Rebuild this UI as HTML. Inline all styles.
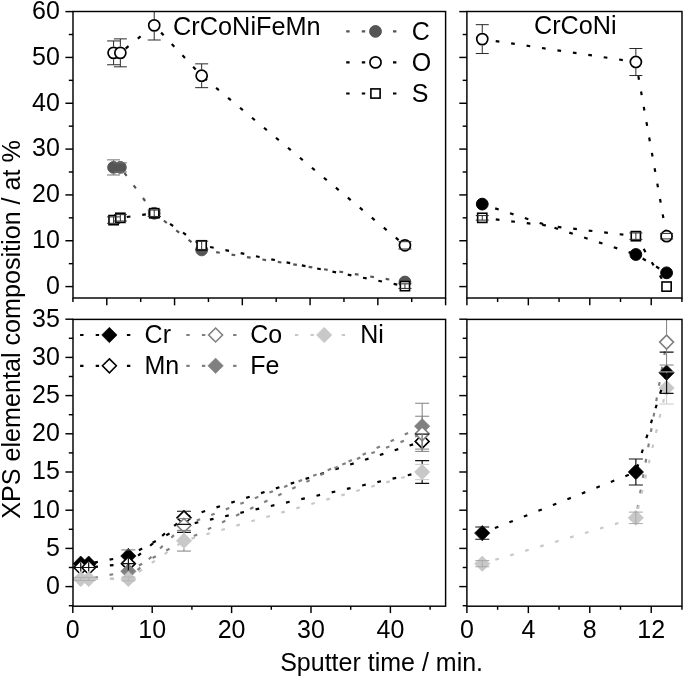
<!DOCTYPE html>
<html><head><meta charset="utf-8"><title>XPS elemental composition</title>
<style>html,body{margin:0;padding:0;background:#fff}svg{display:block;filter:grayscale(1)}</style></head>
<body>
<svg width="685" height="677" viewBox="0 0 685 677" font-family="'Liberation Sans', Arial, sans-serif" font-size="25" fill="#000">
<rect width="685" height="677" fill="#fff"/>
<defs><clipPath id="cTL"><rect x="73" y="11.5" width="373" height="286.5"/></clipPath><clipPath id="cTR"><rect x="466.9" y="11.5" width="215.1" height="286.5"/></clipPath><clipPath id="cBL"><rect x="73" y="319.4" width="373" height="286.8"/></clipPath><clipPath id="cBR"><rect x="466.9" y="319.4" width="215.1" height="286.8"/></clipPath></defs>
<g clip-path="url(#cTL)">
<path d="M113.58 167.42 L120.35 167.42 L154.23 213.25 L201.66 249.92 L404.94 282" fill="none" stroke="#555555" stroke-width="2.2" stroke-dasharray="3.7 11.9" stroke-dashoffset="2.0" stroke-linecap="butt"/>
<circle cx="113.58" cy="167.42" r="5.9" fill="#555555" stroke="#555555" stroke-width="1.0"/>
<circle cx="120.35" cy="167.42" r="5.9" fill="#555555" stroke="#555555" stroke-width="1.0"/>
<circle cx="154.23" cy="213.25" r="5.9" fill="#555555" stroke="#555555" stroke-width="1.0"/>
<circle cx="201.66" cy="249.92" r="5.9" fill="#555555" stroke="#555555" stroke-width="1.0"/>
<circle cx="404.94" cy="282" r="5.9" fill="#555555" stroke="#555555" stroke-width="1.0"/>
<path d="M113.58 52.85 L120.35 52.85 L154.23 25.35 L201.66 75.76 L404.94 245.33" fill="none" stroke="#000" stroke-width="2.2" stroke-dasharray="3.7 11.9" stroke-dashoffset="2.0" stroke-linecap="butt"/>
<circle cx="113.58" cy="52.85" r="5.55" fill="#fff" stroke="#000" stroke-width="1.7"/>
<circle cx="120.35" cy="52.85" r="5.55" fill="#fff" stroke="#000" stroke-width="1.7"/>
<circle cx="154.23" cy="25.35" r="5.55" fill="#fff" stroke="#000" stroke-width="1.7"/>
<circle cx="201.66" cy="75.76" r="5.55" fill="#fff" stroke="#000" stroke-width="1.7"/>
<circle cx="404.94" cy="245.33" r="5.55" fill="#fff" stroke="#000" stroke-width="1.7"/>
<path d="M113.58 220.13 L120.35 217.84 L154.23 213.25 L201.66 245.33 L404.94 286.12" fill="none" stroke="#000" stroke-width="2.2" stroke-dasharray="3.7 11.9" stroke-dashoffset="2.0" stroke-linecap="butt"/>
<rect x="108.98" y="215.53" width="9.2" height="9.2" fill="#fff" stroke="#000" stroke-width="1.6"/>
<rect x="115.75" y="213.24" width="9.2" height="9.2" fill="#fff" stroke="#000" stroke-width="1.6"/>
<rect x="149.63" y="208.65" width="9.2" height="9.2" fill="#fff" stroke="#000" stroke-width="1.6"/>
<rect x="197.06" y="240.73" width="9.2" height="9.2" fill="#fff" stroke="#000" stroke-width="1.6"/>
<rect x="400.34" y="281.52" width="9.2" height="9.2" fill="#fff" stroke="#000" stroke-width="1.6"/>
<path d="M113.58 159.87V161.02M113.58 173.82V174.98M107.08 159.87H120.08M107.08 174.98H120.08" fill="none" stroke="#707070" stroke-width="1.0"/>
<path d="M113.85 162.84H126.85M113.85 172H126.85" fill="none" stroke="#707070" stroke-width="1.0"/>
<path d="M113.58 40.94V46.45M113.58 59.25V64.75M107.08 40.94H120.08M107.08 64.75H120.08" fill="none" stroke="#2a2a2a" stroke-width="1.0"/>
<path d="M120.35 38.88V46.45M120.35 59.25V66.82M113.85 38.88H126.85M113.85 66.82H126.85" fill="none" stroke="#2a2a2a" stroke-width="1.0"/>
<path d="M154.23 11.5V18.95M154.23 31.75V40.01M147.73 40.01H160.73" fill="none" stroke="#2a2a2a" stroke-width="1.0"/>
<path d="M201.66 63.85V69.36M201.66 82.16V87.67M195.16 63.85H208.16M195.16 87.67H208.16" fill="none" stroke="#2a2a2a" stroke-width="1.0"/>
<path d="M398.44 241.67H411.44M398.44 249H411.44" fill="none" stroke="#2a2a2a" stroke-width="1.0"/>
<path d="M113.58 216.92V220.13M113.58 220.13V223.33M107.08 216.92H120.08M107.08 223.33H120.08" fill="none" stroke="#2a2a2a" stroke-width="1.0"/>
<path d="M120.35 214.63V217.84M120.35 217.84V221.04M113.85 214.63H126.85M113.85 221.04H126.85" fill="none" stroke="#2a2a2a" stroke-width="1.0"/>
<path d="M154.23 210.05V213.25M154.23 213.25V216.46M147.73 210.05H160.73M147.73 216.46H160.73" fill="none" stroke="#2a2a2a" stroke-width="1.0"/>
<path d="M201.66 241.21V245.33M201.66 245.33V249.45M195.16 241.21H208.16M195.16 249.45H208.16" fill="none" stroke="#2a2a2a" stroke-width="1.0"/>
<path d="M404.94 283.83V286.12M404.94 286.12V288.41M398.44 283.83H411.44M398.44 288.41H411.44" fill="none" stroke="#2a2a2a" stroke-width="1.0"/>
</g>
<g clip-path="url(#cTR)">
<path d="M482.26 204.09 L635.86 254.5 L666.58 272.83" fill="none" stroke="#000" stroke-width="2.2" stroke-dasharray="3.7 11.9" stroke-dashoffset="2.0" stroke-linecap="butt"/>
<circle cx="482.26" cy="204.09" r="5.9" fill="#000" stroke="#000" stroke-width="1.0"/>
<circle cx="635.86" cy="254.5" r="5.9" fill="#000" stroke="#000" stroke-width="1.0"/>
<circle cx="666.58" cy="272.83" r="5.9" fill="#000" stroke="#000" stroke-width="1.0"/>
<path d="M482.26 39.1 L635.86 62.01 L666.58 236.17" fill="none" stroke="#000" stroke-width="2.2" stroke-dasharray="3.7 11.9" stroke-dashoffset="2.0" stroke-linecap="butt"/>
<circle cx="482.26" cy="39.1" r="5.55" fill="#fff" stroke="#000" stroke-width="1.7"/>
<circle cx="635.86" cy="62.01" r="5.55" fill="#fff" stroke="#000" stroke-width="1.7"/>
<circle cx="666.58" cy="236.17" r="5.55" fill="#fff" stroke="#000" stroke-width="1.7"/>
<path d="M482.26 217.84 L635.86 236.17 L666.58 286.58" fill="none" stroke="#000" stroke-width="2.2" stroke-dasharray="3.7 11.9" stroke-dashoffset="2.0" stroke-linecap="butt"/>
<rect x="477.66" y="213.24" width="9.2" height="9.2" fill="#fff" stroke="#000" stroke-width="1.6"/>
<rect x="631.26" y="231.57" width="9.2" height="9.2" fill="#fff" stroke="#000" stroke-width="1.6"/>
<rect x="661.98" y="281.98" width="9.2" height="9.2" fill="#fff" stroke="#000" stroke-width="1.6"/>
<path d="M482.26 24.67V32.7M482.26 45.5V53.52M475.76 24.67H488.76M475.76 53.52H488.76" fill="none" stroke="#2a2a2a" stroke-width="1.0"/>
<path d="M635.86 48.5V55.61M635.86 68.41V75.52M629.36 48.5H642.36M629.36 75.52H642.36" fill="none" stroke="#2a2a2a" stroke-width="1.0"/>
<path d="M660.08 233.42H673.08M660.08 238.91H673.08" fill="none" stroke="#2a2a2a" stroke-width="1.0"/>
<path d="M482.26 215.55V217.84M482.26 217.84V220.12M475.76 215.55H488.76M475.76 220.12H488.76" fill="none" stroke="#2a2a2a" stroke-width="1.0"/>
<path d="M635.86 232.96V236.17M635.86 236.17V239.37M629.36 232.96H642.36M629.36 239.37H642.36" fill="none" stroke="#2a2a2a" stroke-width="1.0"/>
</g>
<g clip-path="url(#cBL)">
<path d="M80.74 563.68 L88.68 563.68 L128.38 556.04 L183.96 525.48 L422.16 472" fill="none" stroke="#000" stroke-width="2.2" stroke-dasharray="3.7 11.9" stroke-dashoffset="2.0" stroke-linecap="butt"/>
<path d="M80.74 555.98L88.44 563.68L80.74 571.38L73.04 563.68Z" fill="#000" stroke="#000" stroke-width="0.6" stroke-linejoin="miter"/>
<path d="M88.68 555.98L96.38 563.68L88.68 571.38L80.98 563.68Z" fill="#000" stroke="#000" stroke-width="0.6" stroke-linejoin="miter"/>
<path d="M128.38 548.34L136.08 556.04L128.38 563.74L120.68 556.04Z" fill="#000" stroke="#000" stroke-width="0.6" stroke-linejoin="miter"/>
<path d="M176.96 518.6H190.96M176.96 532.36H190.96" fill="none" stroke="#111" stroke-width="1.2"/>
<path d="M422.16 460.54V464.4M422.16 479.6V483.46M415.16 460.54H429.16M415.16 483.46H429.16" fill="none" stroke="#111" stroke-width="1.2"/>
<path d="M121.38 549.93H135.38M121.38 562.15H135.38" fill="none" stroke="#777" stroke-width="1.0"/>
<path d="M80.74 567.5 L88.68 567.5 L128.38 563.68 L183.96 517.84 L422.16 441.44" fill="none" stroke="#000" stroke-width="2.2" stroke-dasharray="3.7 11.9" stroke-dashoffset="2.0" stroke-linecap="butt"/>
<path d="M80.74 560.55L87.69 567.5L80.74 574.45L73.79 567.5Z" fill="#fff" stroke="#000" stroke-width="1.6" stroke-linejoin="miter"/>
<path d="M88.68 560.55L95.63 567.5L88.68 574.45L81.73 567.5Z" fill="#fff" stroke="#000" stroke-width="1.6" stroke-linejoin="miter"/>
<path d="M128.38 556.73L135.33 563.68L128.38 570.63L121.43 563.68Z" fill="#fff" stroke="#000" stroke-width="1.6" stroke-linejoin="miter"/>
<path d="M183.96 510.89L190.91 517.84L183.96 524.79L177.01 517.84Z" fill="#fff" stroke="#000" stroke-width="1.6" stroke-linejoin="miter"/>
<path d="M422.16 434.49L429.11 441.44L422.16 448.39L415.21 441.44Z" fill="#fff" stroke="#000" stroke-width="1.6" stroke-linejoin="miter"/>
<path d="M80.74 578.96 L88.68 578.96 L128.38 571.32 L183.96 540.76 L422.16 426.16" fill="none" stroke="#808080" stroke-width="2.2" stroke-dasharray="3.7 11.9" stroke-dashoffset="2.0" stroke-linecap="butt"/>
<path d="M128.38 563.62L136.08 571.32L128.38 579.02L120.68 571.32Z" fill="#808080" stroke="#808080" stroke-width="0.6" stroke-linejoin="miter"/>
<path d="M422.16 418.46L429.86 426.16L422.16 433.86L414.46 426.16Z" fill="#808080" stroke="#808080" stroke-width="0.6" stroke-linejoin="miter"/>
<path d="M80.74 578.96 L88.68 578.96 L128.38 578.96 L183.96 525.48 L422.16 433.8" fill="none" stroke="#808080" stroke-width="2.2" stroke-dasharray="3.7 11.9" stroke-dashoffset="2.0" stroke-linecap="butt"/>
<path d="M183.96 518.53L190.91 525.48L183.96 532.43L177.01 525.48Z" fill="#fff" stroke="#808080" stroke-width="1.6" stroke-linejoin="miter"/>
<path d="M422.16 426.85L429.11 433.8L422.16 440.75L415.21 433.8Z" fill="#fff" stroke="#808080" stroke-width="1.6" stroke-linejoin="miter"/>
<path d="M176.96 511.27H190.96M176.96 524.41H190.96" fill="none" stroke="#111" stroke-width="1.2"/>
<path d="M415.16 434.18H429.16" fill="none" stroke="#111" stroke-width="1.2"/>
<path d="M80.74 562.15V572.85" stroke="#111" stroke-width="1.2"/>
<path d="M88.68 562.15V572.85" stroke="#111" stroke-width="1.2"/>
<path d="M128.38 557.19V570.17" stroke="#111" stroke-width="1.2"/>
<path d="M73.74 567.5H87.74" stroke="#111" stroke-width="1.2"/>
<path d="M81.68 567.5H95.68" stroke="#111" stroke-width="1.2"/>
<path d="M121.38 563.68H135.38" stroke="#111" stroke-width="1.2"/>
<path d="M183.96 530.45V533.16M183.96 548.36V551.07M176.96 530.45H190.96M176.96 551.07H190.96" fill="none" stroke="#808080" stroke-width="1.0"/>
<path d="M422.16 403.24V418.56M422.16 433.76V449.08M415.16 403.24H429.16M415.16 449.08H429.16" fill="none" stroke="#808080" stroke-width="1.0"/>
<path d="M176.96 518.6H190.96M176.96 530.45H190.96" fill="none" stroke="#808080" stroke-width="1.0"/>
<path d="M422.16 416.23V426.2M422.16 441.4V451.37M415.16 416.23H429.16M415.16 451.37H429.16" fill="none" stroke="#808080" stroke-width="1.0"/>
<path d="M422.16 433.8V451.37" stroke="#808080" stroke-width="1"/>
<path d="M80.74 578.96 L88.68 578.96 L128.38 578.96 L183.96 540.76 L422.16 472" fill="none" stroke="#c8c8c8" stroke-width="2.2" stroke-dasharray="3.7 11.9" stroke-dashoffset="2.0" stroke-linecap="butt"/>
<path d="M80.74 571.26L88.44 578.96L80.74 586.66L73.04 578.96Z" fill="#c8c8c8" stroke="#c8c8c8" stroke-width="0.6" stroke-linejoin="miter"/>
<path d="M88.68 571.26L96.38 578.96L88.68 586.66L80.98 578.96Z" fill="#c8c8c8" stroke="#c8c8c8" stroke-width="0.6" stroke-linejoin="miter"/>
<path d="M128.38 571.26L136.08 578.96L128.38 586.66L120.68 578.96Z" fill="#c8c8c8" stroke="#c8c8c8" stroke-width="0.6" stroke-linejoin="miter"/>
<path d="M183.96 533.06L191.66 540.76L183.96 548.46L176.26 540.76Z" fill="#c8c8c8" stroke="#c8c8c8" stroke-width="0.6" stroke-linejoin="miter"/>
<path d="M422.16 464.3L429.86 472L422.16 479.7L414.46 472Z" fill="#c8c8c8" stroke="#c8c8c8" stroke-width="0.6" stroke-linejoin="miter"/>
<path d="M422.16 464.36V464.4M422.16 479.6V479.64M415.16 464.36H429.16M415.16 479.64H429.16" fill="none" stroke="#c8c8c8" stroke-width="1.0"/>
<path d="M80.74 577.43V578.96M80.74 578.96V580.49M73.74 577.43H87.74M73.74 580.49H87.74" fill="none" stroke="#b0b0b0" stroke-width="1.0"/>
<path d="M88.68 577.43V578.96M88.68 578.96V580.49M81.68 577.43H95.68M81.68 580.49H95.68" fill="none" stroke="#b0b0b0" stroke-width="1.0"/>
<path d="M128.38 577.05V578.96M128.38 578.96V580.87M121.38 577.05H135.38M121.38 580.87H135.38" fill="none" stroke="#b4b4b4" stroke-width="1.0"/>
</g>
<g clip-path="url(#cBR)">
<path d="M635.86 517.84L666.58 342.12" fill="none" stroke="#808080" stroke-width="2.2" stroke-dasharray="3.7 11.9" stroke-dashoffset="6.29"/>
<path d="M482.26 563.68 L635.86 517.84 L666.58 387.96" fill="none" stroke="#c8c8c8" stroke-width="2.2" stroke-dasharray="3.7 11.9" stroke-dashoffset="2.0" stroke-linecap="butt"/>
<path d="M482.26 555.98L489.96 563.68L482.26 571.38L474.56 563.68Z" fill="#c8c8c8" stroke="#c8c8c8" stroke-width="0.6" stroke-linejoin="miter"/>
<path d="M635.86 510.14L643.56 517.84L635.86 525.54L628.16 517.84Z" fill="#c8c8c8" stroke="#c8c8c8" stroke-width="0.6" stroke-linejoin="miter"/>
<path d="M666.58 380.26L674.28 387.96L666.58 395.66L658.88 387.96Z" fill="#c8c8c8" stroke="#c8c8c8" stroke-width="0.6" stroke-linejoin="miter"/>
<path d="M482.26 533.12 L635.86 472 L666.58 372.68" fill="none" stroke="#000" stroke-width="2.2" stroke-dasharray="3.7 11.9" stroke-dashoffset="2.0" stroke-linecap="butt"/>
<path d="M482.26 525.42L489.96 533.12L482.26 540.82L474.56 533.12Z" fill="#000" stroke="#000" stroke-width="0.6" stroke-linejoin="miter"/>
<path d="M635.86 464.3L643.56 472L635.86 479.7L628.16 472Z" fill="#000" stroke="#000" stroke-width="0.6" stroke-linejoin="miter"/>
<path d="M666.58 364.98L674.28 372.68L666.58 380.38L658.88 372.68Z" fill="#000" stroke="#000" stroke-width="0.6" stroke-linejoin="miter"/>
<path d="M666.58 335.17L673.53 342.12L666.58 349.07L659.63 342.12Z" fill="#fff" stroke="#808080" stroke-width="1.6" stroke-linejoin="miter"/>
<path d="M482.26 560.62V563.68M482.26 563.68V566.74M475.26 560.62H489.26M475.26 566.74H489.26" fill="none" stroke="#a8a8a8" stroke-width="1.0"/>
<path d="M635.86 512.11V517.84M635.86 517.84V523.57M628.86 512.11H642.86M628.86 523.57H642.86" fill="none" stroke="#a8a8a8" stroke-width="1.0"/>
<path d="M666.58 371.92V387.96M666.58 387.96V404M659.58 371.92H673.58M659.58 404H673.58" fill="none" stroke="#c8c8c8" stroke-width="1.0"/>
<path d="M475.26 527.01H489.26M475.26 539.23H489.26" fill="none" stroke="#111" stroke-width="1.2"/>
<path d="M635.86 459.01V464.4M635.86 479.6V484.99M628.86 459.01H642.86M628.86 484.99H642.86" fill="none" stroke="#111" stroke-width="1.2"/>
<path d="M659.58 352.05H673.58M659.58 393.31H673.58M666.58 372.68V393.31" stroke="#111" stroke-width="1.2" fill="none"/>
<path d="M666.58 319.4V334.52M666.58 349.72V365.04M659.58 365.04H673.58" fill="none" stroke="#808080" stroke-width="1.0"/>
</g>
<rect x="73" y="11.5" width="372.6" height="286.5" fill="none" stroke="#000" stroke-width="1.45"/>
<rect x="466.9" y="11.5" width="215.1" height="286.5" fill="none" stroke="#000" stroke-width="1.45"/>
<rect x="73" y="319.4" width="372.6" height="286.8" fill="none" stroke="#000" stroke-width="1.45"/>
<rect x="466.9" y="319.4" width="215.1" height="286.8" fill="none" stroke="#000" stroke-width="1.45"/>
<path d="M65.4 286.58H73" stroke="#000" stroke-width="1.45"/>
<path d="M68.8 263.67H73" stroke="#000" stroke-width="1.45"/>
<path d="M65.4 240.75H73" stroke="#000" stroke-width="1.45"/>
<path d="M68.8 217.84H73" stroke="#000" stroke-width="1.45"/>
<path d="M65.4 194.92H73" stroke="#000" stroke-width="1.45"/>
<path d="M68.8 172H73" stroke="#000" stroke-width="1.45"/>
<path d="M65.4 149.09H73" stroke="#000" stroke-width="1.45"/>
<path d="M68.8 126.17H73" stroke="#000" stroke-width="1.45"/>
<path d="M65.4 103.26H73" stroke="#000" stroke-width="1.45"/>
<path d="M68.8 80.34H73" stroke="#000" stroke-width="1.45"/>
<path d="M65.4 57.43H73" stroke="#000" stroke-width="1.45"/>
<path d="M68.8 34.52H73" stroke="#000" stroke-width="1.45"/>
<path d="M65.4 11.6H73" stroke="#000" stroke-width="1.45"/>
<path d="M459.3 286.58H466.9" stroke="#000" stroke-width="1.45"/>
<path d="M462.7 263.67H466.9" stroke="#000" stroke-width="1.45"/>
<path d="M459.3 240.75H466.9" stroke="#000" stroke-width="1.45"/>
<path d="M462.7 217.84H466.9" stroke="#000" stroke-width="1.45"/>
<path d="M459.3 194.92H466.9" stroke="#000" stroke-width="1.45"/>
<path d="M462.7 172H466.9" stroke="#000" stroke-width="1.45"/>
<path d="M459.3 149.09H466.9" stroke="#000" stroke-width="1.45"/>
<path d="M462.7 126.17H466.9" stroke="#000" stroke-width="1.45"/>
<path d="M459.3 103.26H466.9" stroke="#000" stroke-width="1.45"/>
<path d="M462.7 80.34H466.9" stroke="#000" stroke-width="1.45"/>
<path d="M459.3 57.43H466.9" stroke="#000" stroke-width="1.45"/>
<path d="M462.7 34.52H466.9" stroke="#000" stroke-width="1.45"/>
<path d="M459.3 11.6H466.9" stroke="#000" stroke-width="1.45"/>
<path d="M68.8 605.7H73" stroke="#000" stroke-width="1.45"/>
<path d="M65.4 586.6H73" stroke="#000" stroke-width="1.45"/>
<path d="M68.8 567.5H73" stroke="#000" stroke-width="1.45"/>
<path d="M65.4 548.4H73" stroke="#000" stroke-width="1.45"/>
<path d="M68.8 529.3H73" stroke="#000" stroke-width="1.45"/>
<path d="M65.4 510.2H73" stroke="#000" stroke-width="1.45"/>
<path d="M68.8 491.1H73" stroke="#000" stroke-width="1.45"/>
<path d="M65.4 472H73" stroke="#000" stroke-width="1.45"/>
<path d="M68.8 452.9H73" stroke="#000" stroke-width="1.45"/>
<path d="M65.4 433.8H73" stroke="#000" stroke-width="1.45"/>
<path d="M68.8 414.7H73" stroke="#000" stroke-width="1.45"/>
<path d="M65.4 395.6H73" stroke="#000" stroke-width="1.45"/>
<path d="M68.8 376.5H73" stroke="#000" stroke-width="1.45"/>
<path d="M65.4 357.4H73" stroke="#000" stroke-width="1.45"/>
<path d="M68.8 338.3H73" stroke="#000" stroke-width="1.45"/>
<path d="M65.4 319.2H73" stroke="#000" stroke-width="1.45"/>
<path d="M462.7 605.7H466.9" stroke="#000" stroke-width="1.45"/>
<path d="M459.3 586.6H466.9" stroke="#000" stroke-width="1.45"/>
<path d="M462.7 567.5H466.9" stroke="#000" stroke-width="1.45"/>
<path d="M459.3 548.4H466.9" stroke="#000" stroke-width="1.45"/>
<path d="M462.7 529.3H466.9" stroke="#000" stroke-width="1.45"/>
<path d="M459.3 510.2H466.9" stroke="#000" stroke-width="1.45"/>
<path d="M462.7 491.1H466.9" stroke="#000" stroke-width="1.45"/>
<path d="M459.3 472H466.9" stroke="#000" stroke-width="1.45"/>
<path d="M462.7 452.9H466.9" stroke="#000" stroke-width="1.45"/>
<path d="M459.3 433.8H466.9" stroke="#000" stroke-width="1.45"/>
<path d="M462.7 414.7H466.9" stroke="#000" stroke-width="1.45"/>
<path d="M459.3 395.6H466.9" stroke="#000" stroke-width="1.45"/>
<path d="M462.7 376.5H466.9" stroke="#000" stroke-width="1.45"/>
<path d="M459.3 357.4H466.9" stroke="#000" stroke-width="1.45"/>
<path d="M462.7 338.3H466.9" stroke="#000" stroke-width="1.45"/>
<path d="M459.3 319.2H466.9" stroke="#000" stroke-width="1.45"/>
<path d="M72.92 298V302" stroke="#000" stroke-width="1.45"/>
<path d="M106.8 298V305.3" stroke="#000" stroke-width="1.45"/>
<path d="M140.68 298V302" stroke="#000" stroke-width="1.45"/>
<path d="M174.56 298V305.3" stroke="#000" stroke-width="1.45"/>
<path d="M208.44 298V302" stroke="#000" stroke-width="1.45"/>
<path d="M242.32 298V305.3" stroke="#000" stroke-width="1.45"/>
<path d="M276.2 298V302" stroke="#000" stroke-width="1.45"/>
<path d="M310.08 298V305.3" stroke="#000" stroke-width="1.45"/>
<path d="M343.96 298V302" stroke="#000" stroke-width="1.45"/>
<path d="M377.84 298V305.3" stroke="#000" stroke-width="1.45"/>
<path d="M411.72 298V302" stroke="#000" stroke-width="1.45"/>
<path d="M445.6 298V305.3" stroke="#000" stroke-width="1.45"/>
<path d="M72.8 606.2V613.1" stroke="#000" stroke-width="1.45"/>
<path d="M112.5 606.2V609.8" stroke="#000" stroke-width="1.45"/>
<path d="M152.2 606.2V613.1" stroke="#000" stroke-width="1.45"/>
<path d="M191.9 606.2V609.8" stroke="#000" stroke-width="1.45"/>
<path d="M231.6 606.2V613.1" stroke="#000" stroke-width="1.45"/>
<path d="M271.3 606.2V609.8" stroke="#000" stroke-width="1.45"/>
<path d="M311 606.2V613.1" stroke="#000" stroke-width="1.45"/>
<path d="M350.7 606.2V609.8" stroke="#000" stroke-width="1.45"/>
<path d="M390.4 606.2V613.1" stroke="#000" stroke-width="1.45"/>
<path d="M430.1 606.2V609.8" stroke="#000" stroke-width="1.45"/>
<path d="M466.9 298V305.3" stroke="#000" stroke-width="1.45"/>
<path d="M497.62 298V302" stroke="#000" stroke-width="1.45"/>
<path d="M528.34 298V305.3" stroke="#000" stroke-width="1.45"/>
<path d="M559.06 298V302" stroke="#000" stroke-width="1.45"/>
<path d="M589.78 298V305.3" stroke="#000" stroke-width="1.45"/>
<path d="M620.5 298V302" stroke="#000" stroke-width="1.45"/>
<path d="M651.22 298V305.3" stroke="#000" stroke-width="1.45"/>
<path d="M681.94 298V302" stroke="#000" stroke-width="1.45"/>
<path d="M466.9 606.2V613.1" stroke="#000" stroke-width="1.45"/>
<path d="M497.62 606.2V609.8" stroke="#000" stroke-width="1.45"/>
<path d="M528.34 606.2V613.1" stroke="#000" stroke-width="1.45"/>
<path d="M559.06 606.2V609.8" stroke="#000" stroke-width="1.45"/>
<path d="M589.78 606.2V613.1" stroke="#000" stroke-width="1.45"/>
<path d="M620.5 606.2V609.8" stroke="#000" stroke-width="1.45"/>
<path d="M651.22 606.2V613.1" stroke="#000" stroke-width="1.45"/>
<path d="M681.94 606.2V609.8" stroke="#000" stroke-width="1.45"/>
<text x="59.8" y="293.98" text-anchor="end" >0</text>
<text x="59.8" y="248.15" text-anchor="end" >10</text>
<text x="59.8" y="202.32" text-anchor="end" >20</text>
<text x="59.8" y="156.49" text-anchor="end" >30</text>
<text x="59.8" y="110.66" text-anchor="end" >40</text>
<text x="59.8" y="64.83" text-anchor="end" >50</text>
<text x="59.8" y="19" text-anchor="end" >60</text>
<text x="59.8" y="594" text-anchor="end" >0</text>
<text x="59.8" y="555.8" text-anchor="end" >5</text>
<text x="59.8" y="517.6" text-anchor="end" >10</text>
<text x="59.8" y="479.4" text-anchor="end" >15</text>
<text x="59.8" y="441.2" text-anchor="end" >20</text>
<text x="59.8" y="403" text-anchor="end" >25</text>
<text x="59.8" y="364.8" text-anchor="end" >30</text>
<text x="59.8" y="326.6" text-anchor="end" >35</text>
<text x="72.8" y="638" text-anchor="middle" >0</text>
<text x="152.2" y="638" text-anchor="middle" >10</text>
<text x="231.6" y="638" text-anchor="middle" >20</text>
<text x="311" y="638" text-anchor="middle" >30</text>
<text x="390.4" y="638" text-anchor="middle" >40</text>
<text x="466.9" y="638" text-anchor="middle" >0</text>
<text x="528.34" y="638" text-anchor="middle" >4</text>
<text x="589.78" y="638" text-anchor="middle" >8</text>
<text x="651.22" y="638" text-anchor="middle" >12</text>
<text x="173.1" y="35" text-anchor="start" font-size="25.3">CrCoNiFeMn</text>
<text x="534" y="33.9" text-anchor="start" font-size="25.2">CrCoNi</text>
<text x="280.2" y="670.8" text-anchor="start" >Sputter time / min.</text>
<text transform="translate(19.8 518.8) rotate(-90)" x="0" y="0" font-size="25.15">XPS elemental composition / at %</text>
<path d="M346 31.4H405" stroke="#555555" stroke-width="2.2" stroke-dasharray="3.4 12.2" stroke-dashoffset="-0.2" stroke-linecap="butt" fill="none"/>
<circle cx="375.5" cy="31.4" r="5.9" fill="#555555" stroke="#555555" stroke-width="1.0"/>
<text x="411.8" y="39.5" text-anchor="start" >C</text>
<path d="M346 62.4H405" stroke="#000" stroke-width="2.2" stroke-dasharray="3.4 12.2" stroke-dashoffset="-0.2" stroke-linecap="butt" fill="none"/>
<circle cx="375.5" cy="62.4" r="5.55" fill="#fff" stroke="#000" stroke-width="1.7"/>
<text x="411.8" y="70.5" text-anchor="start" >O</text>
<path d="M346 93.5H405" stroke="#000" stroke-width="2.2" stroke-dasharray="3.4 12.2" stroke-dashoffset="-0.2" stroke-linecap="butt" fill="none"/>
<rect x="370.9" y="88.9" width="9.2" height="9.2" fill="#fff" stroke="#000" stroke-width="1.6"/>
<text x="411.8" y="101.6" text-anchor="start" >S</text>
<path d="M79.9 335H138.9" stroke="#000" stroke-width="2.2" stroke-dasharray="3.4 12.2" stroke-dashoffset="-0.2" stroke-linecap="butt" fill="none"/>
<path d="M109.4 327.3L117.1 335L109.4 342.7L101.7 335Z" fill="#000" stroke="#000" stroke-width="0.6" stroke-linejoin="miter"/>
<text x="144.6" y="343.1" text-anchor="start" >Cr</text>
<path d="M79.9 365.8H138.9" stroke="#000" stroke-width="2.2" stroke-dasharray="3.4 12.2" stroke-dashoffset="-0.2" stroke-linecap="butt" fill="none"/>
<path d="M109.4 358.85L116.35 365.8L109.4 372.75L102.45 365.8Z" fill="#fff" stroke="#000" stroke-width="1.6" stroke-linejoin="miter"/>
<text x="144.4" y="373.9" text-anchor="start" >Mn</text>
<path d="M186.1 335H245.1" stroke="#808080" stroke-width="2.2" stroke-dasharray="3.4 12.2" stroke-dashoffset="-0.2" stroke-linecap="butt" fill="none"/>
<path d="M215.6 328.05L222.55 335L215.6 341.95L208.65 335Z" fill="#fff" stroke="#808080" stroke-width="1.6" stroke-linejoin="miter"/>
<text x="250.2" y="343.1" text-anchor="start" >Co</text>
<path d="M186.1 365.8H245.1" stroke="#808080" stroke-width="2.2" stroke-dasharray="3.4 12.2" stroke-dashoffset="-0.2" stroke-linecap="butt" fill="none"/>
<path d="M215.6 358.1L223.3 365.8L215.6 373.5L207.9 365.8Z" fill="#808080" stroke="#808080" stroke-width="0.6" stroke-linejoin="miter"/>
<text x="250.2" y="373.9" text-anchor="start" >Fe</text>
<path d="M294.7 335H353.7" stroke="#c8c8c8" stroke-width="2.2" stroke-dasharray="3.4 12.2" stroke-dashoffset="-0.2" stroke-linecap="butt" fill="none"/>
<path d="M324.2 327.3L331.9 335L324.2 342.7L316.5 335Z" fill="#c8c8c8" stroke="#c8c8c8" stroke-width="0.6" stroke-linejoin="miter"/>
<text x="360.2" y="343.1" text-anchor="start" >Ni</text>
</svg>
</body></html>
